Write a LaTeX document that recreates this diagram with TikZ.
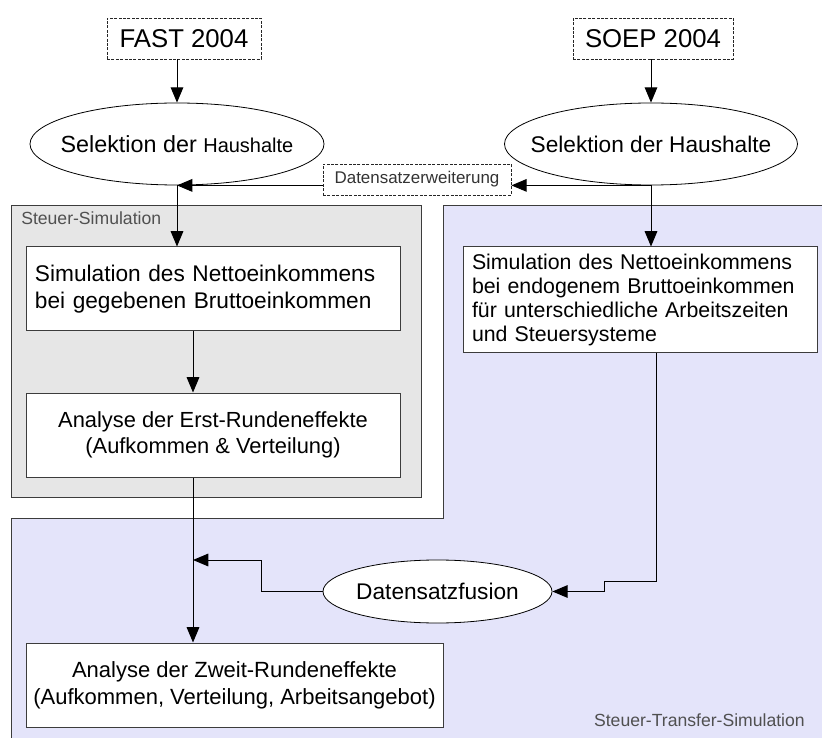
\documentclass[tikz,border=0pt]{standalone}
\usepackage{fontspec}
\setmainfont{Liberation Sans}
\usetikzlibrary{arrows.meta,shapes.geometric,calc}
\definecolor{grayfill}{RGB}{230,230,230}
\definecolor{bluefill}{RGB}{228,228,250}
\definecolor{edge}{RGB}{60,60,60}
\definecolor{labelgray}{RGB}{80,80,80}
\begin{document}
\begin{tikzpicture}[x=0.75pt,y=-0.75pt,
 box/.style={draw=edge,fill=white,line width=0.75pt,rectangle,inner sep=0pt},
 dbox/.style={draw=black!85,fill=white,line width=0.6pt,dash pattern=on 2.2pt off 1.1pt,rectangle,inner sep=0pt},
 oval/.style={draw=black,fill=white,ellipse,inner sep=0pt,line width=0.6pt},
 arr/.style={draw=black,line width=0.75pt,-{Triangle[length=11.5pt,width=9.5pt]}},
 region/.style={draw=edge,line width=0.75pt},
 grouplabel/.style={text=labelgray,font=\fontsize{13.2}{15}\selectfont,inner sep=0pt},
]
\useasboundingbox (0,0) rectangle (822,738);
% regions
\fill[bluefill] (443,206) -- (822,206) -- (822,738) -- (11,738) -- (11,518) -- (443,518) -- cycle;
\draw[region] (822,206) -- (443,206) -- (443,518) -- (11,518) -- (11,738);
\draw[region,fill=grayfill] (11,206) rectangle (421,497);
\node[grouplabel,anchor=base west] (labA) at (21,225) {Steuer-Simulation};
\node[grouplabel,anchor=base east] (labB) at (805,726) {Steuer-Transfer-Simulation};
% nodes
\node[dbox,minimum width=115.5pt,minimum height=30.75pt,font=\fontsize{19.3}{22}\selectfont] (fast) at (184,38.5) {FAST 2004};
\node[dbox,minimum width=120pt,minimum height=30.75pt,font=\fontsize{19.3}{22}\selectfont] (soep) at (653,38.5) {SOEP 2004};
\node[oval,minimum width=220.5pt,minimum height=61.5pt] (sel1) at (177,144)
  {\makebox[0pt]{\fontsize{17.5}{20}\selectfont Selektion der {\fontsize{15}{18}\selectfont Haushalte}}};
\node[oval,minimum width=219.75pt,minimum height=61.5pt] (sel2) at (651,144)
  {\makebox[0pt]{\fontsize{17}{20}\selectfont Selektion der Haushalte}};
\node[dbox,minimum width=141pt,minimum height=23.25pt,text=black!80,font=\fontsize{12.7}{15}\selectfont] (erw) at (417,179.5) {Datensatzerweiterung};
\node[box,text width=267pt,inner xsep=6.75pt,minimum height=63pt,align=left,font=\fontsize{17}{20.25}\selectfont] (sim1) at (213,289)
  {Simulation des Nettoeinkommens\\bei gegebenen Bruttoeinkommen};
\node[box,text width=252pt,inner xsep=6.75pt,minimum height=78.75pt,align=left,font=\fontsize{16}{18}\selectfont] (sim2) at (640,299.5)
  {Simulation des Nettoeinkommens\\bei endogenem Bruttoeinkommen\\f\"ur unterschiedliche Arbeitszeiten\\und Steuersysteme};
\node[box,minimum width=280.5pt,minimum height=63pt,align=center,font=\fontsize{16.4}{19}\selectfont] (erst) at (213,435)
  {Analyse der Erst-Rundeneffekte\\(Aufkommen \& Verteilung)};
\node[oval,minimum width=171.75pt,minimum height=47.25pt] (fusion) at (437.5,591.5)
  {\makebox[0pt]{\fontsize{17}{20}\selectfont Datensatzfusion}};
\node[box,minimum width=312.75pt,minimum height=63pt,align=center,font=\fontsize{16.5}{20}\selectfont] (zweit) at (234.5,685)
  {Analyse der Zweit-Rundeneffekte\\(Aufkommen, Verteilung, Arbeitsangebot)};
% helper coordinates
\coordinate (cA) at (193,0);
\coordinate (cB) at (656,0);
\coordinate (b1) at (604,581);
\coordinate (b2) at (261,560);
% connectors
\draw[arr] (sel1.north |- fast.south) -- (sel1.north);
\draw[arr] (sel2.north |- soep.south) -- (sel2.north);
\draw[arr] (sel2.south) -- (erw.east |- sel2.south);
\draw[arr] (erw.west |- sel1.south) -- (sel1.south);
\draw[arr] (sel1.south) -- (sel1.south |- sim1.north);
\draw[arr] (sel2.south) -- (sel2.south |- sim2.north);
\draw[arr] (cA |- sim1.south) -- (cA |- erst.north);
\draw[arr] (cA |- erst.south) -- (cA |- zweit.north);
\draw[arr] (cB |- sim2.south) |- (b1) |- (fusion.east);
\draw[arr] (fusion.west) -| (b2) -- (cA |- b2);
\end{tikzpicture}
\end{document}
